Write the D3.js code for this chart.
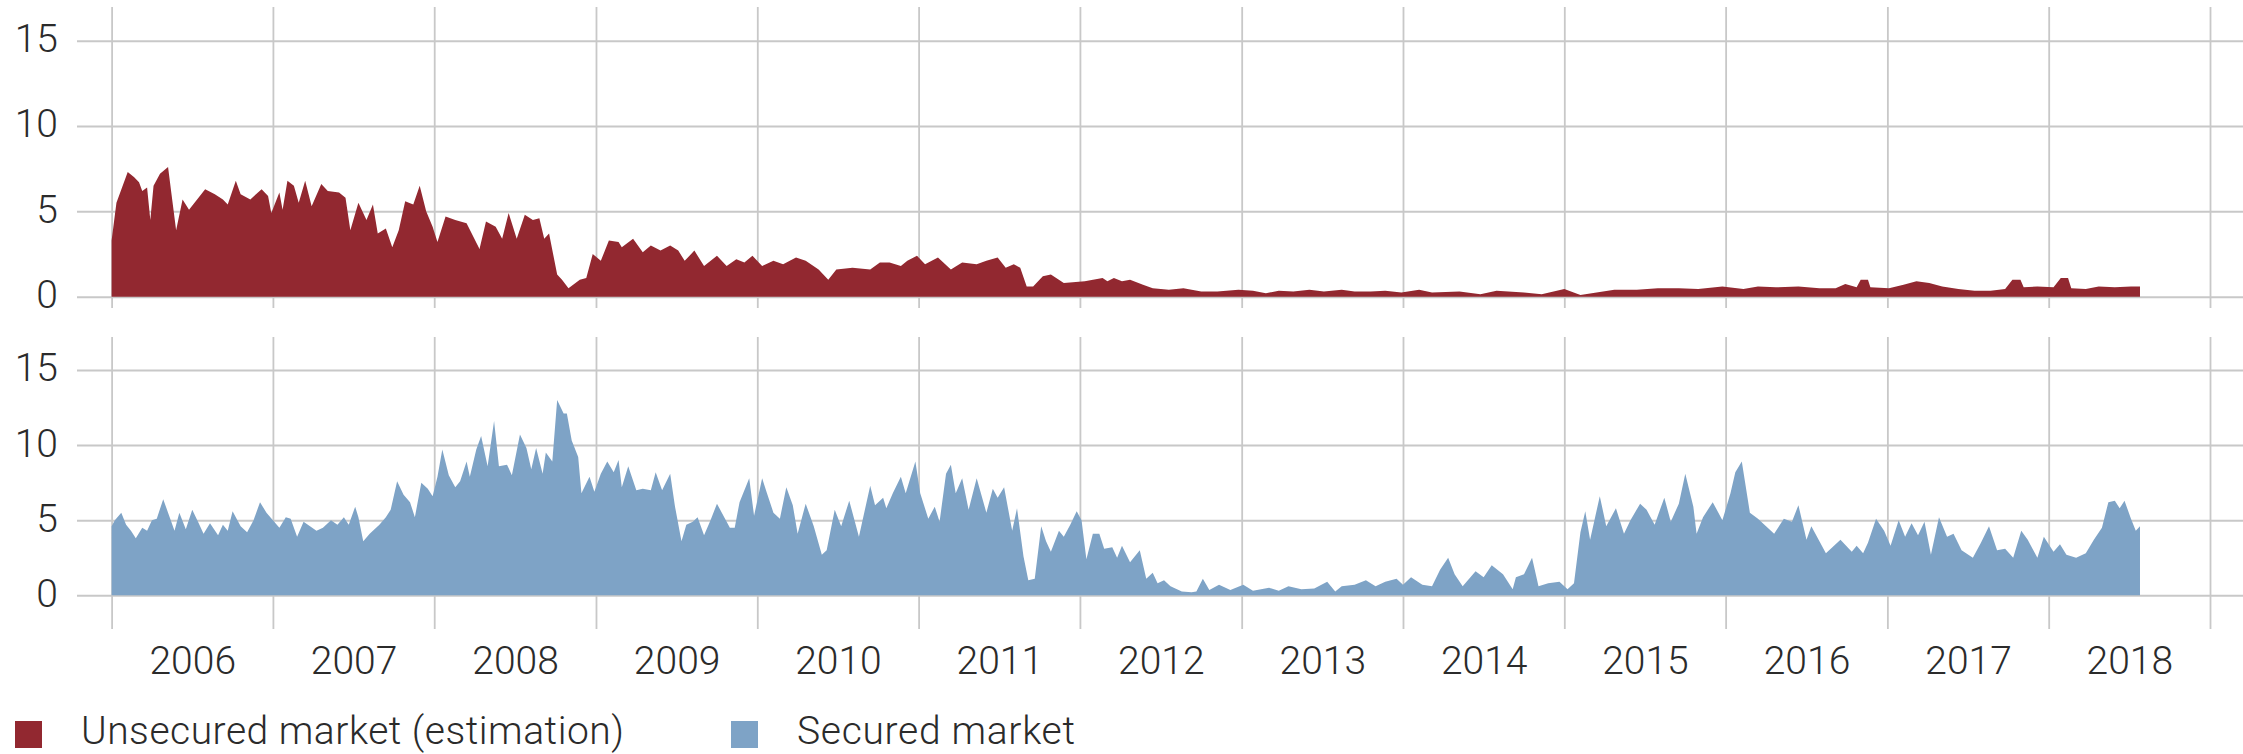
<!DOCTYPE html>
<html>
<head>
<meta charset="utf-8">
<script src="https://cdn.jsdelivr.net/npm/d3@7"></script>
<style>
  body { margin: 0; background: #fff; }
  svg { display: block; font-family: Roboto, "Liberation Sans", sans-serif; font-weight: 300; }
</style>
</head>
<body>
<svg width="2243" height="754"></svg>
<script>
// Data: [decimal year, value]
const unsecured = [
  [2006.00,3.3],[2006.03,5.5],[2006.10,7.3],[2006.14,7.0],[2006.17,6.7],[2006.19,6.2],[2006.22,6.4],[2006.24,4.5],
  [2006.26,6.5],[2006.30,7.2],[2006.35,7.6],[2006.37,6.1],[2006.40,3.9],[2006.44,5.7],[2006.48,5.1],[2006.53,5.7],
  [2006.58,6.3],[2006.64,6.0],[2006.69,5.7],[2006.72,5.4],[2006.77,6.8],[2006.80,6.0],[2006.86,5.7],[2006.93,6.3],
  [2006.97,5.9],[2006.99,4.9],[2007.04,6.1],[2007.06,5.1],[2007.09,6.8],[2007.13,6.5],[2007.16,5.5],[2007.20,6.8],
  [2007.24,5.3],[2007.30,6.6],[2007.34,6.2],[2007.41,6.1],[2007.45,5.8],[2007.48,3.9],[2007.53,5.5],[2007.58,4.5],
  [2007.62,5.4],[2007.65,3.7],[2007.70,4.0],[2007.74,2.9],[2007.78,3.9],[2007.82,5.6],[2007.87,5.4],[2007.91,6.5],
  [2007.95,5.0],[2007.99,4.1],[2008.02,3.2],[2008.07,4.7],[2008.13,4.5],[2008.20,4.3],[2008.28,2.8],[2008.32,4.4],
  [2008.38,4.1],[2008.42,3.4],[2008.46,4.9],[2008.51,3.4],[2008.56,4.8],[2008.61,4.5],[2008.65,4.6],[2008.68,3.4],
  [2008.71,3.7],[2008.76,1.3],[2008.79,1.0],[2008.83,0.5],[2008.90,1.0],[2008.94,1.1],[2008.98,2.5],[2009.03,2.1],
  [2009.08,3.3],[2009.14,3.2],[2009.16,2.9],[2009.23,3.4],[2009.29,2.6],[2009.34,3.0],[2009.40,2.7],[2009.46,3.0],
  [2009.51,2.7],[2009.55,2.1],[2009.61,2.7],[2009.67,1.8],[2009.75,2.4],[2009.81,1.8],[2009.87,2.2],[2009.92,2.0],
  [2009.97,2.4],[2010.03,1.8],[2010.10,2.1],[2010.16,1.9],[2010.24,2.3],[2010.30,2.1],[2010.38,1.6],[2010.44,1.0],
  [2010.49,1.6],[2010.59,1.7],[2010.70,1.6],[2010.76,2.0],[2010.82,2.0],[2010.89,1.8],[2010.93,2.1],[2010.99,2.4],
  [2011.04,1.9],[2011.12,2.3],[2011.20,1.6],[2011.27,2.0],[2011.36,1.9],[2011.42,2.1],[2011.49,2.3],[2011.54,1.7],
  [2011.59,1.9],[2011.63,1.7],[2011.67,0.6],[2011.71,0.6],[2011.77,1.2],[2011.82,1.3],[2011.90,0.8],[2012.03,0.9],
  [2012.14,1.1],[2012.17,0.9],[2012.21,1.1],[2012.26,0.9],[2012.31,1.0],[2012.39,0.7],[2012.45,0.5],[2012.55,0.4],
  [2012.64,0.5],[2012.75,0.3],[2012.85,0.3],[2012.98,0.4],[2013.07,0.35],[2013.15,0.2],[2013.23,0.35],[2013.32,0.3],
  [2013.42,0.4],[2013.51,0.3],[2013.62,0.4],[2013.70,0.3],[2013.80,0.3],[2013.89,0.35],[2013.99,0.25],[2014.10,0.4],
  [2014.18,0.25],[2014.35,0.3],[2014.48,0.15],[2014.58,0.35],[2014.75,0.25],[2014.86,0.15],[2015.00,0.45],[2015.10,0.1],
  [2015.20,0.25],[2015.31,0.4],[2015.45,0.4],[2015.58,0.5],[2015.71,0.5],[2015.83,0.45],[2015.98,0.6],[2016.11,0.45],
  [2016.20,0.6],[2016.31,0.55],[2016.45,0.6],[2016.58,0.5],[2016.68,0.5],[2016.74,0.75],[2016.81,0.55],[2016.835,1.0],
  [2016.88,1.0],[2016.895,0.55],[2017.01,0.5],[2017.10,0.7],[2017.18,0.9],[2017.26,0.8],[2017.34,0.6],[2017.44,0.45],
  [2017.54,0.35],[2017.64,0.35],[2017.73,0.45],[2017.775,1.0],[2017.825,1.0],[2017.845,0.55],[2017.93,0.6],[2018.03,0.55],
  [2018.075,1.1],[2018.12,1.1],[2018.14,0.5],[2018.23,0.45],[2018.31,0.6],[2018.41,0.55],[2018.51,0.6],[2018.566,0.6]
];

const secured = [
  [2006.00,4.6],[2006.02,5.0],[2006.06,5.5],[2006.09,4.7],[2006.12,4.3],[2006.15,3.8],[2006.19,4.5],[2006.22,4.3],
  [2006.25,5.0],[2006.28,5.1],[2006.32,6.4],[2006.35,5.5],[2006.39,4.3],[2006.42,5.5],[2006.46,4.4],[2006.50,5.7],
  [2006.54,4.8],[2006.57,4.1],[2006.61,4.8],[2006.66,4.0],[2006.69,4.7],[2006.72,4.3],[2006.75,5.6],[2006.80,4.6],
  [2006.84,4.2],[2006.88,5.0],[2006.92,6.2],[2006.96,5.5],[2007.00,5.0],[2007.04,4.5],[2007.08,5.2],[2007.11,5.1],
  [2007.15,3.9],[2007.19,4.9],[2007.23,4.6],[2007.27,4.3],[2007.31,4.5],[2007.36,5.0],[2007.40,4.7],[2007.44,5.2],
  [2007.47,4.7],[2007.51,5.9],[2007.53,5.2],[2007.56,3.6],[2007.60,4.1],[2007.66,4.7],[2007.70,5.2],[2007.73,5.7],
  [2007.77,7.6],[2007.81,6.7],[2007.85,6.2],[2007.88,5.2],[2007.92,7.5],[2007.96,7.1],[2007.99,6.6],[2008.02,7.9],
  [2008.05,9.7],[2008.09,8.0],[2008.13,7.2],[2008.16,7.6],[2008.20,8.9],[2008.22,7.9],[2008.26,9.7],[2008.29,10.6],
  [2008.33,8.6],[2008.37,11.6],[2008.40,8.6],[2008.45,8.7],[2008.48,8.0],[2008.53,10.7],[2008.57,9.8],[2008.60,8.4],
  [2008.63,9.8],[2008.67,8.1],[2008.69,9.5],[2008.73,8.9],[2008.76,13.0],[2008.80,12.1],[2008.82,12.1],[2008.85,10.3],
  [2008.89,9.2],[2008.91,6.8],[2008.96,7.9],[2008.99,6.9],[2009.03,8.1],[2009.07,8.9],[2009.11,8.2],[2009.14,9.0],
  [2009.16,7.2],[2009.20,8.6],[2009.25,7.0],[2009.29,7.1],[2009.34,7.0],[2009.37,8.2],[2009.41,7.0],[2009.46,8.1],
  [2009.49,5.9],[2009.53,3.6],[2009.56,4.7],[2009.60,4.9],[2009.63,5.2],[2009.67,4.0],[2009.71,5.0],[2009.75,6.1],
  [2009.78,5.5],[2009.83,4.5],[2009.86,4.5],[2009.89,6.2],[2009.95,7.8],[2009.98,5.3],[2010.03,7.8],[2010.06,6.8],
  [2010.10,5.5],[2010.14,5.1],[2010.18,7.2],[2010.22,6.0],[2010.25,4.1],[2010.30,6.1],[2010.35,4.6],[2010.40,2.7],
  [2010.43,3.0],[2010.48,5.7],[2010.52,4.6],[2010.57,6.3],[2010.63,3.9],[2010.70,7.3],[2010.73,6.0],[2010.78,6.5],
  [2010.80,5.8],[2010.84,6.8],[2010.89,7.9],[2010.92,6.8],[2010.98,8.9],[2011.01,6.8],[2011.06,5.1],[2011.10,5.9],
  [2011.13,4.9],[2011.17,8.1],[2011.20,8.7],[2011.23,6.8],[2011.27,7.8],[2011.31,5.7],[2011.36,7.8],[2011.42,5.5],
  [2011.46,7.1],[2011.49,6.5],[2011.53,7.2],[2011.58,4.3],[2011.61,5.8],[2011.65,2.6],[2011.68,1.0],[2011.72,1.1],
  [2011.76,4.6],[2011.79,3.6],[2011.82,2.9],[2011.87,4.3],[2011.90,3.9],[2011.94,4.7],[2011.98,5.6],[2012.01,5.0],
  [2012.04,2.4],[2012.08,4.1],[2012.12,4.1],[2012.15,3.1],[2012.20,3.2],[2012.23,2.5],[2012.26,3.3],[2012.31,2.2],
  [2012.37,3.0],[2012.41,1.1],[2012.45,1.5],[2012.48,0.8],[2012.52,1.0],[2012.56,0.6],[2012.63,0.25],[2012.69,0.2],
  [2012.72,0.25],[2012.76,1.1],[2012.80,0.35],[2012.86,0.7],[2012.93,0.35],[2013.01,0.7],[2013.07,0.3],[2013.17,0.5],
  [2013.23,0.3],[2013.29,0.6],[2013.37,0.4],[2013.45,0.45],[2013.53,0.9],[2013.58,0.25],[2013.62,0.6],[2013.70,0.7],
  [2013.77,1.0],[2013.83,0.6],[2013.89,0.9],[2013.96,1.1],[2014.00,0.7],[2014.05,1.2],[2014.12,0.7],[2014.18,0.6],
  [2014.23,1.7],[2014.28,2.5],[2014.32,1.4],[2014.37,0.6],[2014.45,1.6],[2014.50,1.2],[2014.55,2.0],[2014.62,1.4],
  [2014.68,0.4],[2014.70,1.2],[2014.75,1.4],[2014.80,2.5],[2014.84,0.6],[2014.90,0.8],[2014.97,0.9],[2015.02,0.4],
  [2015.06,0.8],[2015.10,4.2],[2015.13,5.6],[2015.16,3.7],[2015.22,6.6],[2015.26,4.6],[2015.32,5.8],[2015.37,4.1],
  [2015.41,5.0],[2015.47,6.1],[2015.51,5.7],[2015.56,4.7],[2015.62,6.5],[2015.66,4.9],[2015.71,6.1],[2015.75,8.1],
  [2015.80,5.9],[2015.82,4.1],[2015.86,5.2],[2015.92,6.2],[2015.98,5.0],[2016.03,6.8],[2016.06,8.2],[2016.10,8.9],
  [2016.15,5.5],[2016.20,5.1],[2016.25,4.6],[2016.30,4.1],[2016.36,5.1],[2016.41,4.9],[2016.45,6.0],[2016.50,3.7],
  [2016.53,4.6],[2016.58,3.6],[2016.62,2.8],[2016.66,3.2],[2016.71,3.7],[2016.78,2.9],[2016.81,3.3],[2016.85,2.8],
  [2016.88,3.5],[2016.93,5.1],[2016.98,4.3],[2017.02,3.3],[2017.07,5.0],[2017.11,3.9],[2017.15,4.8],[2017.19,4.0],
  [2017.23,4.9],[2017.27,2.7],[2017.32,5.2],[2017.37,3.9],[2017.41,4.1],[2017.46,3.0],[2017.53,2.5],[2017.58,3.5],
  [2017.63,4.6],[2017.68,3.0],[2017.73,3.1],[2017.78,2.5],[2017.83,4.3],[2017.87,3.7],[2017.93,2.5],[2017.97,3.9],
  [2018.03,2.9],[2018.07,3.4],[2018.11,2.7],[2018.17,2.5],[2018.23,2.8],[2018.28,3.7],[2018.33,4.5],[2018.37,6.2],
  [2018.41,6.3],[2018.44,5.8],[2018.47,6.3],[2018.51,5.1],[2018.54,4.3],[2018.566,4.6]
];

const years = [2006, 2007, 2008, 2009, 2010, 2011, 2012, 2013, 2014, 2015, 2016, 2017, 2018];
const yTicks = [0, 5, 10, 15];
const legendLabels = ['Unsecured market (estimation)', 'Secured market'];

const red = '#922830';
const blue = '#7ea3c6';
const gridColor = '#c8c8c8';
const textColor = '#2b2b2b';

const svg = d3.select('svg');
const width = +svg.attr('width');

// decimal year -> Date
const toDate = t => {
    const y = Math.floor(t);
    const s = Date.UTC(y, 0, 1), e = Date.UTC(y + 1, 0, 1);
    return new Date(s + (t - y) * (e - s));
};

// x scale shared by both panels
const x = d3.scaleUtc()
    .domain([toDate(2006), toDate(2019)])
    .range([111.6, 2210]);

const gridLeft = 77;
const yearBounds = d3.range(2006, 2020).map(toDate);

// one panel = grid + area
function panel(data, color, yRange, vTop, vBottom) {
    const y = d3.scaleLinear().domain([0, 15]).range(yRange);
    const g = svg.append('g');

    // vertical year lines
    g.append('g')
        .attr('transform', `translate(0,${vBottom})`)
        .call(d3.axisTop(x).tickValues(yearBounds).tickSize(vBottom - vTop).tickFormat(''))
        .call(s => s.select('.domain').remove())
        .call(s => s.selectAll('line').attr('stroke', gridColor).attr('stroke-width', 1.8));

    // horizontal value lines + labels
    g.append('g')
        .attr('transform', `translate(${gridLeft},0)`)
        .call(d3.axisLeft(y).tickValues(yTicks).tickSize(-(width - gridLeft)).tickPadding(19))
        .call(s => s.select('.domain').remove())
        .call(s => s.selectAll('line').attr('stroke', gridColor).attr('stroke-width', 2))
        .call(s => s.selectAll('text')
            .attr('font-size', 39)
            .attr('font-family', 'Roboto, "Liberation Sans", sans-serif')
            .attr('font-weight', 300)
            .attr('fill', textColor)
            .attr('dy', '0.28em'));

    const area = d3.area()
        .x(d => x(toDate(d[0])))
        .y0(y(0))
        .y1(d => y(d[1]));

    g.append('path')
        .datum(data)
        .attr('d', area)
        .attr('fill', color);
}

panel(unsecured, red, [296.7, 40.7], 7, 308);
panel(secured, blue, [595.3, 370], 337, 629);

// year labels centred in each year
svg.append('g')
    .attr('transform', 'translate(0,674)')
    .call(d3.axisBottom(x)
        .tickValues(years.map(yr => toDate(yr + 0.5)))
        .tickSize(0)
        .tickPadding(0)
        .tickFormat(d3.utcFormat('%Y')))
    .call(s => s.select('.domain').remove())
    .call(s => s.selectAll('text')
        .attr('y', 0)
        .attr('dy', 0)
        .attr('font-size', 39)
        .attr('font-family', 'Roboto, "Liberation Sans", sans-serif')
        .attr('font-weight', 300)
        .attr('fill', textColor));

// legend
const legend = svg.append('g');
const legendX = [15, 731];
[red, blue].forEach((c, i) => {
    legend.append('rect')
        .attr('x', legendX[i])
        .attr('y', 721)
        .attr('width', 27)
        .attr('height', 27)
        .attr('fill', c);
    legend.append('text')
        .attr('x', legendX[i] + 66)
        .attr('y', 744)
        .attr('font-size', 39)
        .attr('font-weight', 300)
        .attr('fill', textColor)
        .attr('textLength', i === 0 ? 543 : 278)
        .attr('lengthAdjust', 'spacing')
        .text(legendLabels[i]);
});
</script>
</body>
</html>
